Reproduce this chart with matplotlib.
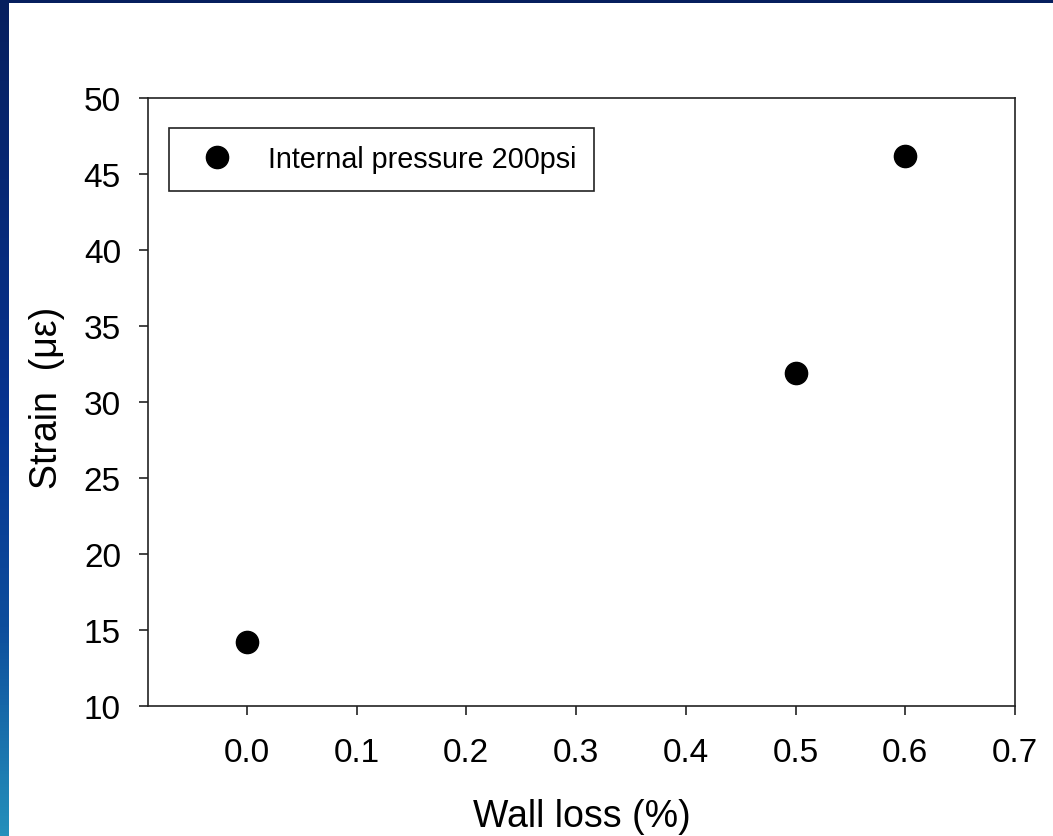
import numpy as np
import matplotlib
matplotlib.use("Agg")
import matplotlib.pyplot as plt
from matplotlib.colors import LinearSegmentedColormap
from matplotlib.patches import Rectangle

# Data
wall_loss = [0.0, 0.5, 0.6]          # %
strain = [14.2, 31.9, 46.2]          # micro-strain
series_label = "Internal pressure 200psi"
x_ticks = [0.0, 0.1, 0.2, 0.3, 0.4, 0.5, 0.6, 0.7]
y_ticks = [10, 15, 20, 25, 30, 35, 40, 45, 50]

plt.rcParams["font.family"] = ["Liberation Sans", "DejaVu Sans"]

W, H, DPI = 1053, 837, 100
fig = plt.figure(figsize=(W / DPI, H / DPI), dpi=DPI)

# Slide-style blue gradient behind a white panel
bg = fig.add_axes([0, 0, 1, 1], zorder=-10)
bg.set_axis_off()
grad_cmap = LinearSegmentedColormap.from_list(
    "slide", [(0.0, "#2590bb"), (0.25, "#0d4d9c"), (0.5, "#063491"), (1.0, "#061f5e")])
grad = np.linspace(0, 1, 256).reshape(-1, 1)
bg.imshow(grad, aspect="auto", cmap=grad_cmap, origin="lower", extent=[0, 1, 0, 1])
bg.add_patch(Rectangle((9 / W, 0), 1 - 9 / W, 1 - 4 / H, transform=bg.transAxes,
                       facecolor="white", edgecolor="none"))
bg.set_xlim(0, 1)
bg.set_ylim(0, 1)

ax = fig.add_axes([148 / W, 1 - 707 / H, (1015 - 148) / W, (707 - 99) / H])
ax.set_facecolor("white")

ax.plot(wall_loss, strain, linestyle="none", marker="o", markersize=16,
        color="black", label=series_label)

ax.set_xlim(-0.09, 0.7)
ax.set_ylim(10, 50)
ax.set_xticks(x_ticks)
ax.set_xticklabels([f"{v:.1f}" for v in x_ticks])
ax.set_yticks(y_ticks)
ax.set_yticklabels([str(v) for v in y_ticks])

for sp in ax.spines.values():
    sp.set_linewidth(1.2)
    sp.set_color("#222222")
ax.tick_params(axis="both", direction="out", length=6.5, width=1.2,
               color="#222222", labelsize=24, pad=13)
ax.tick_params(axis="x", pad=16)

ax.set_xlabel("Wall loss (%)", fontsize=27)
ax.set_ylabel("Strain  (\u03bc\u03b5)", fontsize=27)
ax.xaxis.label.set_va("baseline")
ax.yaxis.label.set_va("baseline")
ax.xaxis.set_label_coords(0.5, (707 - 827) / 608)
ax.yaxis.set_label_coords((57 - 148) / 867, 0.508)

leg = ax.legend(loc="upper left", bbox_to_anchor=(21 / 867, (707 - 129) / 608),
                borderaxespad=0, fontsize=20.7, numpoints=1, fancybox=False,
                frameon=True, framealpha=1, edgecolor="#222222",
                borderpad=0.6, handlelength=2.16, handletextpad=0.7)
leg.get_frame().set_linewidth(1.2)

fig.savefig("out.png", dpi=DPI)
